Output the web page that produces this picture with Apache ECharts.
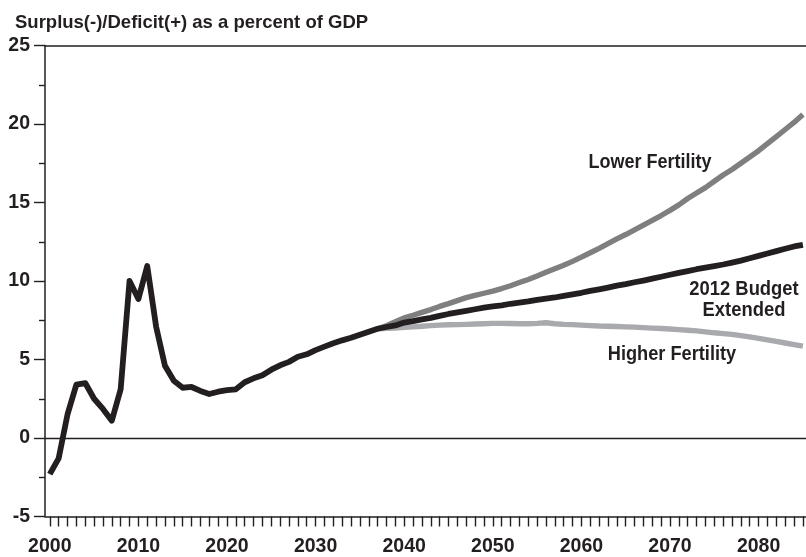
<!DOCTYPE html>
<html><head><meta charset="utf-8">
<script src="https://cdn.jsdelivr.net/npm/echarts@6/dist/echarts.min.js"></script>
<style>html,body{margin:0;padding:0;background:#fff}#c{width:806px;height:557px}</style>
</head><body><div id="c"></div>
<script>
const years = [2000,2001,2002,2003,2004,2005,2006,2007,2008,2009,
  2010,2011,2012,2013,2014,2015,2016,2017,2018,2019,
  2020,2021,2022,2023,2024,2025,2026,2027,2028,2029,
  2030,2031,2032,2033,2034,2035,2036,2037,2038,2039,
  2040,2041,2042,2043,2044,2045,2046,2047,2048,2049,
  2050,2051,2052,2053,2054,2055,2056,2057,2058,2059,
  2060,2061,2062,2063,2064,2065,2066,2067,2068,2069,
  2070,2071,2072,2073,2074,2075,2076,2077,2078,2079,
  2080,2081,2082,2083,2084,2085];
const budgetExtended = [-2.3,-1.3,1.5,3.4,3.5,2.5,1.85,1.1,3.1,10.0,
  8.85,10.95,7.1,4.6,3.65,3.2,3.25,3.0,2.8,2.95,
  3.05,3.1,3.55,3.8,4.0,4.35,4.63,4.85,5.17,5.33,
  5.6,5.82,6.03,6.22,6.38,6.58,6.77,6.96,7.07,7.17,
  7.35,7.45,7.55,7.65,7.78,7.9,8.0,8.1,8.2,8.3,
  8.38,8.45,8.55,8.62,8.7,8.8,8.88,8.95,9.05,9.15,
  9.25,9.37,9.47,9.58,9.7,9.8,9.92,10.03,10.15,10.27,
  10.4,10.52,10.63,10.75,10.85,10.95,11.05,11.17,11.3,11.45,
  11.6,11.75,11.9,12.05,12.2,12.3];
const projYears = [2037,2038,2039,
  2040,2041,2042,2043,2044,2045,2046,2047,2048,2049,
  2050,2051,2052,2053,2054,2055,2056,2057,2058,2059,
  2060,2061,2062,2063,2064,2065,2066,2067,2068,2069,
  2070,2071,2072,2073,2074,2075,2076,2077,2078,2079,
  2080,2081,2082,2083,2084,2085];
const lowerFertility = [6.96,7.15,7.4,
  7.65,7.82,8.0,8.18,8.38,8.56,8.75,8.94,9.08,9.22,
  9.36,9.52,9.7,9.9,10.1,10.32,10.55,10.78,11.0,11.25,
  11.52,11.8,12.08,12.38,12.68,12.96,13.26,13.56,13.86,14.17,
  14.5,14.85,15.25,15.6,15.95,16.35,16.75,17.1,17.5,17.9,
  18.3,18.75,19.2,19.65,20.1,20.6];
const higherFertility = [6.96,6.98,7.0,
  7.05,7.08,7.12,7.16,7.19,7.21,7.22,7.24,7.26,7.28,
  7.3,7.3,7.29,7.28,7.28,7.3,7.34,7.28,7.24,7.22,
  7.19,7.16,7.13,7.12,7.1,7.08,7.06,7.03,7.0,6.97,
  6.94,6.9,6.86,6.82,6.76,6.7,6.65,6.6,6.52,6.44,
  6.35,6.25,6.15,6.05,5.95,5.85];
const xLabelYears = [2000,2010,2020,2030,2040,2050,2060,2070,2080];
const yTickLabels = [-5,0,5,10,15,20,25];

const titleText = 'Surplus(-)/Deficit(+) as a percent of GDP';
const WIDE = "'Liberation Sans',Arial,Helvetica,sans-serif";
const INK = '#231f20';

const pairs = (xs, ys) => xs.map((x, i) => [x, ys[i]]);

const chart = echarts.init(document.getElementById('c'), null, {renderer: 'canvas'});
chart.setOption({
  animation: false,
  backgroundColor: '#ffffff',
  grid: {left: 45, right: 0, top: 45.5, bottom: 39, containLabel: false},
  xAxis: [{
    type: 'value', min: 1999.46, max: 2085.35, position: 'bottom',
    axisLine: {show: true, onZero: false, lineStyle: {color: INK, width: 1.5}},
    axisTick: {show: true, customValues: years, length: 10, lineStyle: {color: INK, width: 1.4}},
    axisLabel: {show: true, customValues: xLabelYears, margin: 20.5, formatter: v => String(v),
      color: INK, fontFamily: WIDE, fontWeight: 'bold', fontSize: 19.5},
    splitLine: {show: false}
  }, {
    type: 'value', min: 1999.46, max: 2085.35, position: 'top',
    axisLine: {show: true, onZero: false, lineStyle: {color: INK, width: 1.5}},
    axisTick: {show: false}, axisLabel: {show: false}, splitLine: {show: false}
  }],
  yAxis: {
    type: 'value', min: yTickLabels[0], max: yTickLabels[yTickLabels.length - 1], interval: 5,
    axisLine: {show: true, onZero: false, lineStyle: {color: INK, width: 1.5}},
    axisTick: {show: true, length: 11, lineStyle: {color: INK, width: 1.4}},
    minorTick: {show: true, splitNumber: 2, length: 6, lineStyle: {color: INK, width: 1.4}},
    axisLabel: {margin: 15, color: INK, fontFamily: WIDE, fontWeight: 'bold', fontSize: 19.5,
      formatter: v => String(v)},
    splitLine: {show: false}
  },
  series: [
    {name: 'Higher Fertility', type: 'line', data: pairs(projYears, higherFertility),
      showSymbol: false, lineStyle: {color: '#a9aaad', width: 5.4}, z: 2},
    {name: 'Lower Fertility', type: 'line', data: pairs(projYears, lowerFertility),
      showSymbol: false, lineStyle: {color: '#7f7f80', width: 5.4}, z: 3},
    {name: '2012 Budget Extended', type: 'line', data: pairs(years, budgetExtended),
      showSymbol: false, lineStyle: {color: INK, width: 5.8, join: 'round'}, z: 4,
      markLine: {silent: true, symbol: ['none', 'none'], label: {show: false},
        lineStyle: {color: INK, width: 1.3, type: 'solid'}, data: [{yAxis: 0}], z: 1}}
  ],
  graphic: [
    {type: 'text', left: 15, top: 13.5, style: {text: titleText, fill: INK,
      font: "bold 18.5px " + WIDE}},
    {type: 'text', x: 650, y: 162, scaleX: 0.9, style: {text: 'Lower Fertility', fill: INK, align: 'center',
      verticalAlign: 'middle', font: "bold 20px " + WIDE}},
    {type: 'text', x: 744, y: 299.5, scaleX: 0.92, style: {text: '2012 Budget\nExtended', fill: INK, align: 'center',
      verticalAlign: 'middle', lineHeight: 21, font: "bold 20px " + WIDE}},
    {type: 'text', x: 672, y: 354.5, scaleX: 0.91, style: {text: 'Higher Fertility', fill: INK, align: 'center',
      verticalAlign: 'middle', font: "bold 20px " + WIDE}}
  ]
});
</script>
</body></html>
